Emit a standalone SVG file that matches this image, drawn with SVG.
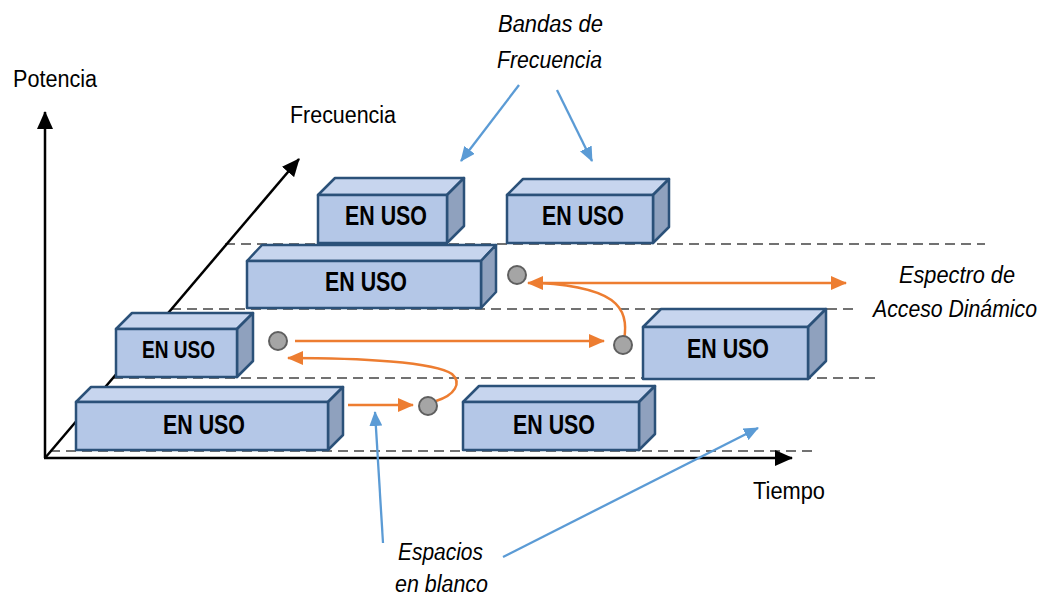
<svg xmlns="http://www.w3.org/2000/svg" width="1053" height="597" viewBox="0 0 1053 597">
<style>
.front{fill:#B4C7E7;stroke:#2B5179;stroke-width:2.5;stroke-linejoin:round}
.top{fill:#C7D5EE;stroke:#2B5179;stroke-width:2.5;stroke-linejoin:round}
.side{fill:#8FA1BE;stroke:#2B5179;stroke-width:2.5;stroke-linejoin:round}
.lbl{font-family:"Liberation Sans",Arial,sans-serif;font-weight:bold;font-size:27px;fill:#000}
.t{font-family:"Liberation Sans",Arial,sans-serif;font-size:23.5px;fill:#000}
.ti{font-family:"Liberation Sans",Arial,sans-serif;font-size:23.5px;font-style:italic;fill:#000}
.dash{stroke:#444;stroke-width:1.6;stroke-dasharray:10 6;fill:none}
.axis{stroke:#000;stroke-width:2.5;fill:none}
.or{stroke:#ED7D31;stroke-width:2.5;fill:none}
.bl{stroke:#5B9BD5;stroke-width:2.3;fill:none}
.dot{fill:#A5A5A5;stroke:#5F5F5F;stroke-width:2}
</style>
<defs>
<marker id="ak" markerUnits="userSpaceOnUse" markerWidth="18" markerHeight="16" refX="17" refY="8" orient="auto"><path d="M0,0 L18,8 L0,16 z" fill="#000"/></marker>
<marker id="ao" markerUnits="userSpaceOnUse" markerWidth="16" markerHeight="14" refX="15" refY="7" orient="auto-start-reverse"><path d="M0,0 L16,7 L0,14 z" fill="#ED7D31"/></marker>
<marker id="ab" markerUnits="userSpaceOnUse" markerWidth="15" markerHeight="13" refX="14" refY="6.5" orient="auto"><path d="M0,0 L15,6.5 L0,13 z" fill="#5B9BD5"/></marker>
</defs>
<g id="guides">
<line class="dash" x1="50" y1="451" x2="813" y2="451"/>
<line class="dash" x1="113" y1="378" x2="875" y2="378"/>
<line class="dash" x1="171" y1="309" x2="853" y2="309"/>
<line class="dash" x1="225" y1="244" x2="985" y2="244"/>
</g>
<g id="axes">
<line class="axis" x1="45" y1="458" x2="45" y2="112" marker-end="url(#ak)"/>
<line class="axis" x1="44" y1="458" x2="792" y2="458" marker-end="url(#ak)"/>
<line class="axis" x1="45" y1="458" x2="299" y2="159" marker-end="url(#ak)"/>
</g>
<g id="boxA">
<polygon class="top" points="318,195 335,178 464,178 447,195"/>
<polygon class="side" points="447,195 464,178 464,226 447,243"/>
<rect class="front" x="318" y="195" width="129" height="48"/>
<text class="lbl" x="345" y="225" textLength="82" lengthAdjust="spacingAndGlyphs">EN USO</text>
</g>
<g id="boxE">
<polygon class="top" points="507,195 523,179 669,179 653,195"/>
<polygon class="side" points="653,195 669,179 669,227 653,243"/>
<rect class="front" x="507" y="195" width="146" height="48"/>
<text class="lbl" x="542" y="225" textLength="82" lengthAdjust="spacingAndGlyphs">EN USO</text>
</g>
<g id="boxB">
<polygon class="top" points="247,261 262,245 496,245 481,261"/>
<polygon class="side" points="481,261 496,245 496,292 481,308"/>
<rect class="front" x="247" y="261" width="234" height="47"/>
<text class="lbl" x="325" y="291" textLength="82" lengthAdjust="spacingAndGlyphs">EN USO</text>
</g>
<g id="boxC">
<polygon class="top" points="116,329 132,313 253,313 237,329"/>
<polygon class="side" points="237,329 253,313 253,361 237,377"/>
<rect class="front" x="116" y="329" width="121" height="48"/>
<text class="lbl" x="142" y="358" style="font-size:24px" textLength="73" lengthAdjust="spacingAndGlyphs">EN USO</text>
</g>
<g id="boxF">
<polygon class="top" points="643,327 661,309 826,309 808,327"/>
<polygon class="side" points="808,327 826,309 826,361 808,379"/>
<rect class="front" x="643" y="327" width="165" height="52"/>
<text class="lbl" x="687" y="358" textLength="82" lengthAdjust="spacingAndGlyphs">EN USO</text>
</g>
<g id="boxD">
<polygon class="top" points="76,402 91,387 343,387 328,402"/>
<polygon class="side" points="328,402 343,387 343,435 328,450"/>
<rect class="front" x="76" y="402" width="252" height="48"/>
<text class="lbl" x="163" y="434" textLength="82" lengthAdjust="spacingAndGlyphs">EN USO</text>
</g>
<g id="boxG">
<polygon class="top" points="463,402 479,386 655,386 639,402"/>
<polygon class="side" points="639,402 655,386 655,434 639,450"/>
<rect class="front" x="463" y="402" width="176" height="48"/>
<text class="lbl" x="513" y="434" textLength="82" lengthAdjust="spacingAndGlyphs">EN USO</text>
</g>
<g id="connectors">
<path class="or" d="M528,283 L846,283" marker-start="url(#ao)" marker-end="url(#ao)"/>
<path class="or" d="M623,346 C630,312 624,288 540,283"/>
<path class="or" d="M295,341 L604,341" marker-end="url(#ao)"/>
<path class="or" d="M436,401 C455,395 462,383 452,374 C435,362 360,358 288,358" marker-end="url(#ao)"/>
<path class="or" d="M348,405 L413,405" marker-end="url(#ao)"/>
<path class="bl" d="M519,85 L461,161" marker-end="url(#ab)"/>
<path class="bl" d="M557,90 L592,161" marker-end="url(#ab)"/>
<path class="bl" d="M383,543 L375,412" marker-end="url(#ab)"/>
<path class="bl" d="M503,557 L758,428" marker-end="url(#ab)"/>
</g>
<g id="dots">
<circle class="dot" cx="517" cy="275" r="9"/>
<circle class="dot" cx="278" cy="341" r="9"/>
<circle class="dot" cx="623" cy="345" r="9"/>
<circle class="dot" cx="428" cy="406" r="9"/>
</g>
<g id="labels">
<text class="t" x="13" y="87" textLength="84" lengthAdjust="spacingAndGlyphs">Potencia</text>
<text class="t" x="290" y="123" textLength="106" lengthAdjust="spacingAndGlyphs">Frecuencia</text>
<text class="t" x="753" y="499" textLength="72" lengthAdjust="spacingAndGlyphs">Tiempo</text>
<text class="ti" x="498" y="32" textLength="105" lengthAdjust="spacingAndGlyphs">Bandas de</text>
<text class="ti" x="497" y="68" textLength="105" lengthAdjust="spacingAndGlyphs">Frecuencia</text>
<text class="ti" x="899" y="283" textLength="116" lengthAdjust="spacingAndGlyphs">Espectro de</text>
<text class="ti" x="873" y="317" textLength="164" lengthAdjust="spacingAndGlyphs">Acceso Dinámico</text>
<text class="ti" x="398" y="560" textLength="85" lengthAdjust="spacingAndGlyphs">Espacios</text>
<text class="ti" x="395" y="592" textLength="93" lengthAdjust="spacingAndGlyphs">en blanco</text>
</g>
</svg>
